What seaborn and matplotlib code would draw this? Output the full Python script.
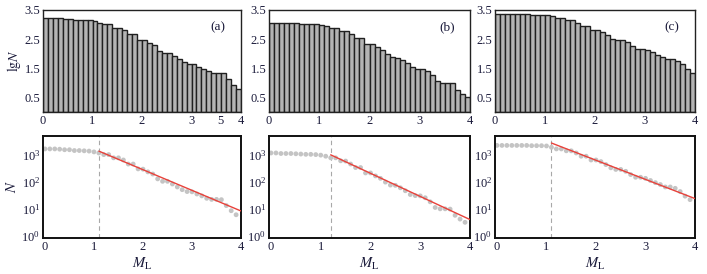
import numpy as np
import pandas as pd
import matplotlib
matplotlib.use('Agg')
import matplotlib.pyplot as plt
import seaborn as sns
from matplotlib.ticker import LogFormatterMathtext, FixedLocator, NullLocator

# Datos: magnitud (borde izquierdo de cada intervalo) y lg N por panel
M = np.round(np.arange(40) * 0.1, 1)

lgN_a = [3.22, 3.22, 3.22, 3.21, 3.19, 3.19, 3.16, 3.16, 3.15, 3.14,
         3.11, 3.07, 3.01, 3.01, 2.89, 2.89, 2.81, 2.66, 2.66, 2.48,
         2.47, 2.37, 2.29, 2.11, 2.02, 2.02, 1.92, 1.81, 1.71, 1.64,
         1.63, 1.55, 1.48, 1.39, 1.35, 1.35, 1.34, 1.12, 0.93, 0.78]
lgN_b = [3.07, 3.07, 3.05, 3.05, 3.05, 3.04, 3.03, 3.02, 3.02, 3.01,
         2.99, 2.95, 2.89, 2.89, 2.78, 2.77, 2.66, 2.53, 2.53, 2.33,
         2.33, 2.22, 2.13, 1.99, 1.88, 1.87, 1.78, 1.67, 1.53, 1.49,
         1.48, 1.41, 1.26, 1.05, 1.00, 1.00, 0.99, 0.76, 0.62, 0.50]
lgN_c = [3.35, 3.35, 3.35, 3.35, 3.35, 3.35, 3.35, 3.34, 3.34, 3.34,
         3.33, 3.28, 3.22, 3.22, 3.15, 3.15, 3.07, 2.95, 2.95, 2.81,
         2.81, 2.75, 2.64, 2.52, 2.46, 2.46, 2.39, 2.27, 2.17, 2.17,
         2.13, 2.05, 1.97, 1.90, 1.81, 1.81, 1.76, 1.64, 1.47, 1.34]

# Ajuste G-R: magnitud de completitud Mc, a y b
Mc = [1.1, 1.2, 1.1]
a_val = [3.98, 4.03, 4.22]
b_val = [0.765, 0.857, 0.71]

labels = ['(a)', '(b)', '(c)']
series = [lgN_a, lgN_b, lgN_c]

sns.set_style('white')
plt.rcParams['font.family'] = ['Liberation Serif', 'DejaVu Serif']
plt.rcParams['mathtext.fontset'] = 'stix'
txt = '#1a1a3a'

fig = plt.figure(figsize=(7.07, 2.74), dpi=100)
W, H = 707, 274
cols = [(43, 241), (269, 470), (495, 695)]


def px_axes(x0, x1, y0, y1):
    return fig.add_axes([x0 / W, 1 - y1 / H, (x1 - x0) / W, (y1 - y0) / H])


for i in range(3):
    df = pd.DataFrame({'M': M, 'lgN': series[i]})
    df['centro'] = np.round(df['M'] + 0.05, 2)
    df['N'] = 10 ** df['lgN']

    # panel superior: barras
    ax = px_axes(cols[i][0], cols[i][1], 10, 112)
    sns.barplot(data=df, x='centro', y='lgN', native_scale=True, width=1.0,
                color='#b4b4b4', saturation=1, edgecolor='#202020',
                linewidth=1.0, ax=ax)
    ax.set_xlim(0, 4)
    ax.set_ylim(0, 3.5)
    xt = [0, 1, 2, 3, 4]
    xl = ['0', '1', '2', '3', '4']
    if i == 0:
        xt = [0, 1, 2, 3, 3.58, 4]
        xl = ['0', '1', '2', '3', '5', '4']
    ax.set_xticks(xt)
    ax.set_xticklabels(xl)
    ax.set_yticks([0.5, 1.5, 2.5, 3.5])
    ax.set_yticklabels(['0.5', '1.5', '2.5', '3.5'])
    ax.set_xlabel('')
    ax.set_ylabel(r'$\mathrm{lg}N$' if i == 0 else '', color=txt, fontsize=10, labelpad=1)
    ax.tick_params(length=0, pad=2, labelsize=9, colors=txt)
    for s in ax.spines.values():
        s.set_visible(True)
        s.set_color('#222222')
        s.set_linewidth(1.0)
    ax.text(0.885, 0.83, labels[i], transform=ax.transAxes, ha='center',
            va='center', fontsize=9.5, color=txt)

    # panel inferior: N frente a M en escala log
    ax2 = px_axes(cols[i][0], cols[i][1], 136, 238)
    sns.scatterplot(data=df, x='M', y='N', color='#c4c4c4', s=12,
                    edgecolor='none', ax=ax2, zorder=2)
    xf = np.array([Mc[i], 4.0])
    fit = pd.DataFrame({'M': xf, 'N': 10 ** (a_val[i] - b_val[i] * xf)})
    sns.lineplot(data=fit, x='M', y='N', color='#e8413a', linewidth=1.0,
                 ax=ax2, zorder=3)
    ax2.axvline(Mc[i], color='#a8a8a8', linestyle=(0, (4, 3)), linewidth=0.8, zorder=1)
    ax2.set_yscale('log')
    ax2.set_ylim(0.83, 5000)
    ax2.set_xlim(-0.04, 4.0)
    ax2.yaxis.set_major_locator(FixedLocator([1, 10, 100, 1000]))
    ax2.yaxis.set_major_formatter(LogFormatterMathtext())
    ax2.yaxis.set_minor_locator(NullLocator())
    ax2.set_xticks([0, 1, 2, 3, 4])
    ax2.set_xlabel(r'$M_\mathrm{L}$', color=txt, fontsize=10.5, labelpad=2)
    ax2.set_ylabel(r'$N$' if i == 0 else '', color=txt, fontsize=10.5, labelpad=2)
    ax2.tick_params(length=0, pad=2, labelsize=9, colors=txt)
    for s in ax2.spines.values():
        s.set_visible(True)
        s.set_color('#111111')
        s.set_linewidth(1.4)

fig.savefig('out.png', dpi=100)
